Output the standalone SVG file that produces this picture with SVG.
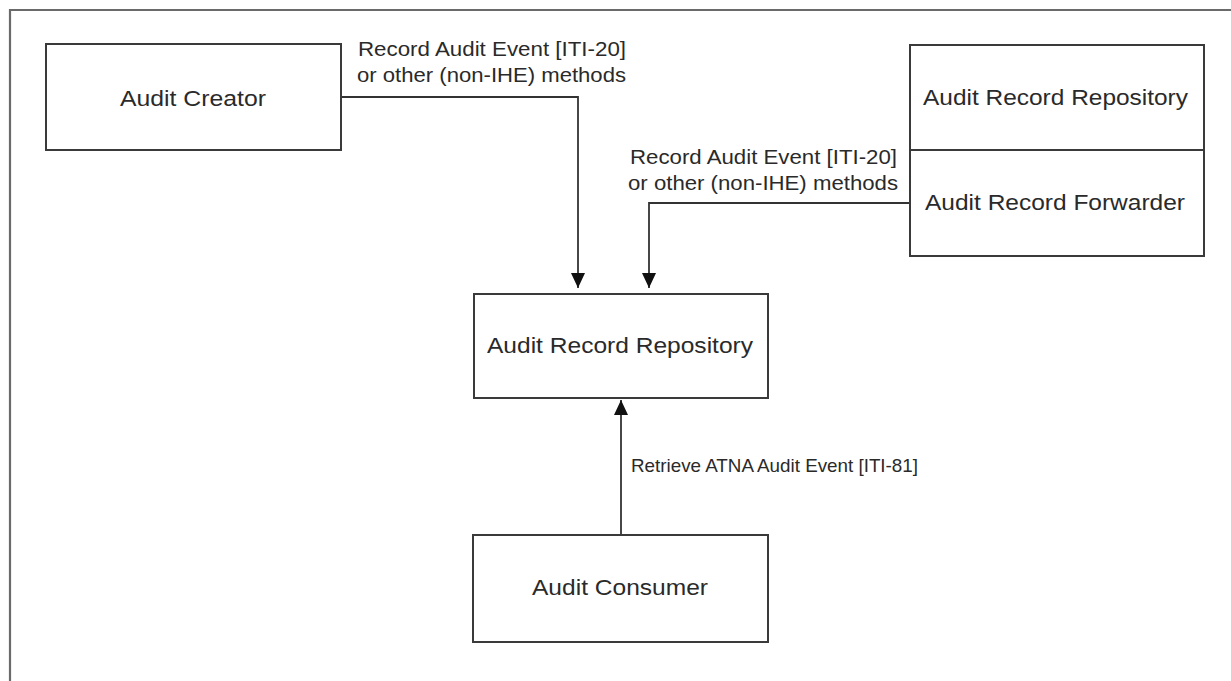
<svg xmlns="http://www.w3.org/2000/svg" width="1231" height="681" viewBox="0 0 1231 681">
<style>
.box{fill:#fff;stroke:#3a3a3a;stroke-width:2}
.frame{fill:none;stroke:#6a6a6a;stroke-width:2.2}
.conn{fill:none;stroke:#333;stroke-width:1.8}
.nt{font-family:"Liberation Sans",Arial,sans-serif;font-size:22px;fill:#2a2a2a}
.lt{font-family:"Liberation Sans",Arial,sans-serif;font-size:20px;fill:#2a2a2a}
.lt2{font-family:"Liberation Sans",Arial,sans-serif;font-size:18.5px;fill:#2a2a2a}
</style>
<defs>
<marker id="arr" markerUnits="userSpaceOnUse" markerWidth="16" markerHeight="16" viewBox="0 0 16 16" refX="15" refY="8" orient="auto">
<path d="M0,1 L15,8 L0,15 Z" fill="#111"/>
</marker>
</defs>
<rect width="1231" height="681" fill="#fff"/>
<path class="frame" d="M10,690 V10 H1240"/>
<g id="connectors">
<path class="conn" d="M341,97 H578 V288" marker-end="url(#arr)"/>
<path class="conn" d="M910,203 H649 V288" marker-end="url(#arr)"/>
<path class="conn" d="M621,535 V400" marker-end="url(#arr)"/>
<text class="lt" x="358" y="56" textLength="268" lengthAdjust="spacingAndGlyphs">Record Audit Event [ITI-20]</text>
<text class="lt" x="357" y="82" textLength="269" lengthAdjust="spacingAndGlyphs">or other (non-IHE) methods</text>
<text class="lt" x="630" y="164" textLength="267" lengthAdjust="spacingAndGlyphs">Record Audit Event [ITI-20]</text>
<text class="lt" x="628" y="190" textLength="270" lengthAdjust="spacingAndGlyphs">or other (non-IHE) methods</text>
<text class="lt2" x="631" y="472" textLength="287" lengthAdjust="spacingAndGlyphs">Retrieve ATNA Audit Event [ITI-81]</text>
</g>
<g id="audit-creator">
<rect class="box" x="46" y="44" width="295" height="106"/>
<text class="nt" x="120" y="106" textLength="146" lengthAdjust="spacingAndGlyphs">Audit Creator</text>
</g>
<g id="arr-forwarder">
<rect class="box" x="910" y="45" width="294" height="211"/>
<line class="box" x1="910" y1="150" x2="1204" y2="150"/>
<text class="nt" x="923" y="105" textLength="265" lengthAdjust="spacingAndGlyphs">Audit Record Repository</text>
<text class="nt" x="925" y="210" textLength="260" lengthAdjust="spacingAndGlyphs">Audit Record Forwarder</text>
</g>
<g id="audit-record-repository">
<rect class="box" x="474" y="294" width="294" height="104"/>
<text class="nt" x="487" y="353" textLength="266" lengthAdjust="spacingAndGlyphs">Audit Record Repository</text>
</g>
<g id="audit-consumer">
<rect class="box" x="473" y="535" width="295" height="107"/>
<text class="nt" x="532" y="595" textLength="176" lengthAdjust="spacingAndGlyphs">Audit Consumer</text>
</g>
</svg>
